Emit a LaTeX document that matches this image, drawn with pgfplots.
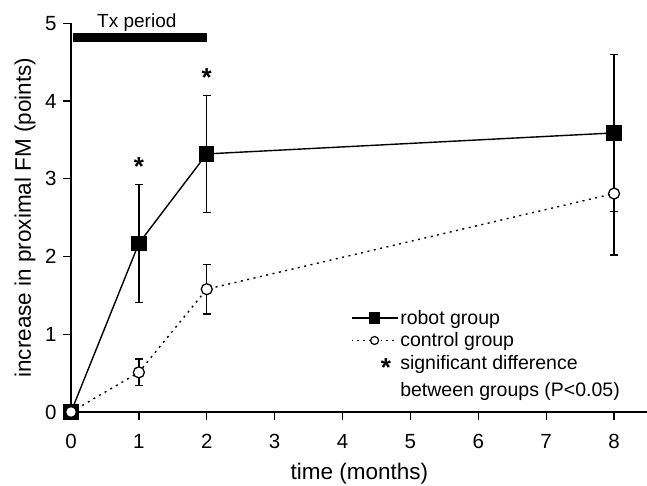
\documentclass[border=0pt]{standalone}
\usepackage{fontspec}
\setmainfont{Liberation Sans}
\usepackage{pgfplots}
\pgfplotsset{compat=1.18}
\begin{document}
\begin{tikzpicture}[x=1pt,y=1pt]
\path[use as bounding box] (-71,-73) rectangle (576,412);
\begin{axis}[
  at={(0pt,0pt)}, anchor=south west,
  scale only axis, width=577pt, height=388.7pt,
  xmin=0, xmax=8.5, ymin=0, ymax=5,
  axis x line*=bottom, axis y line*=left,
  axis line style={line width=1.6pt, black},
  xtick={0,1,2,3,4,5,6,7,8}, ytick={0,1,2,3,4,5},
  tick align=outside, major tick length=8pt,
  tick style={line width=1.3pt, black},
  ticklabel style={font=\fontsize{20.5}{24}\selectfont},
  xticklabel style={yshift=-11pt},
  yticklabel style={xshift=-3pt},
  /pgf/number format/assume math mode=true,
  xlabel={time (months)},
  ylabel={increase in proximal FM (points)},
  label style={font=\fontsize{22.5}{26}\selectfont},
  xlabel style={at={([yshift=-62pt]axis description cs:0.5,0)}, anchor=center},
  ylabel style={at={([xshift=-46pt]axis description cs:0,0.5)}, anchor=center, rotate=0},
  clip=false,
  legend style={at={(axis cs:4.12,1.34)}, anchor=north west, draw=none, fill=none,
    font=\fontsize{19.5}{27}\selectfont, inner sep=0pt, row sep=3pt,
    cells={anchor=west, align=left}},
]
% Tx period bar
\addplot[line width=9pt, black, forget plot] coordinates {(0.03,4.82) (2,4.82)};
% control line and error bars (no marks)
\addplot[black, line width=1.4pt, dash pattern=on 2pt off 4.5pt, mark=none, forget plot,
  error bars/.cd, y dir=both, y explicit,
  error bar style={line width=1.3pt, black, solid},
  error mark options={rotate=90, mark size=4pt, line width=1.3pt, black, solid}]
  coordinates {(0,0) +- (0,0) (1,0.51) +- (0,0.17) (2,1.58) +- (0,0.32) (8,2.81) +- (0,0.79)};
% robot
\addplot[black, line width=1.4pt, mark=square*, mark size=7pt, mark options={solid}, forget plot,
  error bars/.cd, y dir=both, y explicit,
  error bar style={line width=1.3pt, black},
  error mark options={rotate=90, mark size=4pt, line width=1.3pt, black}]
  coordinates {(0,0) +- (0,0) (1,2.17) +- (0,0.76) (2,3.32) +- (0,0.75) (8,3.59) +- (0,1.01)};
% control marks
\addplot[only marks, mark=*, mark size=5.5pt, mark options={fill=white, draw=black, line width=1.3pt}, forget plot]
  coordinates {(0,0) (1,0.51) (2,1.58) (8,2.81)};
% annotations
\node[font=\fontsize{19}{20}\selectfont, anchor=base] at (axis cs:0.97,4.94) {Tx period};
\node[font=\fontsize{26}{26}\selectfont\bfseries, inner sep=0pt, yshift=-5pt] at (axis cs:1,3.22) {*};
\node[font=\fontsize{26}{26}\selectfont\bfseries, inner sep=0pt, yshift=-5pt] at (axis cs:2,4.37) {*};
% legend
\addlegendimage{black, line width=1.4pt, mark=square*, mark size=5pt,
  legend image code/.code={\draw[mark repeat=2,mark phase=2] plot coordinates {(0pt,0pt) (23pt,0pt) (46pt,0pt)};}}
\addlegendentry{robot group}
\addlegendimage{black, line width=1.3pt, dash pattern=on 1.8pt off 4pt, mark=*, mark size=4pt,
  mark options={fill=white, solid, line width=1.2pt},
  legend image code/.code={\draw[mark repeat=2,mark phase=2] plot coordinates {(0pt,0pt) (23pt,0pt) (46pt,0pt)};}}
\addlegendentry{control group}
\addlegendimage{legend image code/.code={\node[font=\fontsize{26}{26}\selectfont\bfseries, inner sep=0pt] at (29pt,8.5pt) {*};}}
\addlegendentry{significant difference\\between groups (P<0.05)}
\end{axis}
\end{tikzpicture}
\end{document}
